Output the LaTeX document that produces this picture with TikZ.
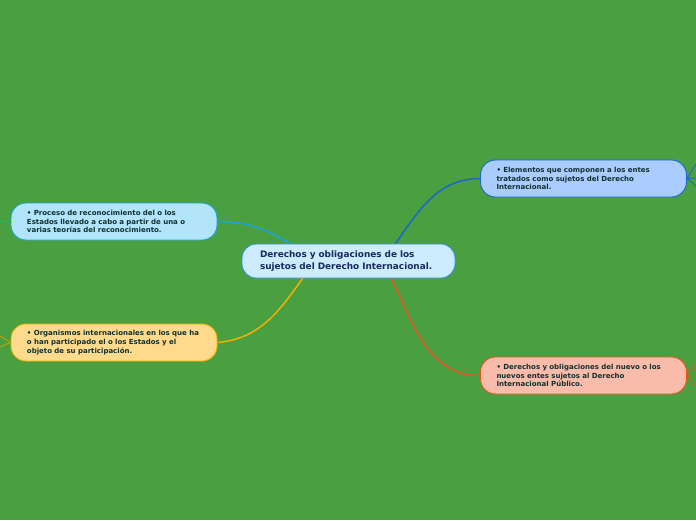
\documentclass[tikz,border=0pt]{standalone}
\usepackage{fontspec}
\usepackage{tikz}
\usetikzlibrary{positioning}
\newfontfamily\mapfont{DejaVu Sans}
\definecolor{mapgreen}{RGB}{74,159,64}
\definecolor{rootfill}{RGB}{204,235,252}
\definecolor{rootline}{RGB}{58,140,210}
\definecolor{roottext}{RGB}{24,42,92}
\definecolor{leaftext}{RGB}{16,48,48}
\definecolor{cyanfill}{RGB}{178,228,252}
\definecolor{cyanline}{RGB}{28,164,214}
\definecolor{yellowfill}{RGB}{255,218,140}
\definecolor{yellowline}{RGB}{240,178,0}
\definecolor{bluefill}{RGB}{170,204,255}
\definecolor{blueline}{RGB}{26,102,204}
\definecolor{redfill}{RGB}{250,188,170}
\definecolor{redline}{RGB}{232,84,32}

\begin{document}
\begin{tikzpicture}[
    x=1pt, y=-1pt,
    topic/.style={
      draw=rootline, fill=rootfill, line width=0.9pt, rounded corners=14pt,
      minimum width=213pt, minimum height=34pt, inner xsep=18pt,
      text width=177pt, align=left, text=roottext,
      font=\mapfont\bfseries\fontsize{8.9}{11.8}\selectfont
    },
    leaf/.style={
      line width=0.9pt, rounded corners=15pt,
      minimum width=206pt, minimum height=37pt, inner xsep=16pt,
      text width=174pt, align=left, text=leaftext,
      font=\mapfont\bfseries\fontsize{7}{8.6}\selectfont
    },
    branch/.style={line width=1.5pt},
    stub/.style={line width=0.8pt}
  ]
    % Background
    \fill[mapgreen] (0,0) rectangle (696,520);
    \useasboundingbox (0,0) rectangle (696,520);

    % Central topic
    \node[topic] (root) at (348.5,261) {Derechos y obligaciones de los\\sujetos del Derecho Internacional.};

    % Left branches
    \node[leaf, draw=cyanline, fill=cyanfill] (proceso) at (114,221.5)
      {• Proceso de reconocimiento del o los\\Estados llevado a cabo a partir de una o\\varias teorías del reconocimiento.};
    \node[leaf, draw=yellowline, fill=yellowfill] (organismos) at (114,342.5)
      {• Organismos internacionales en los que ha\\o han participado el o los Estados y el\\objeto de su participación.};

    % Right branches
    \node[leaf, draw=blueline, fill=bluefill] (elementos) at (583.5,178.5)
      {• Elementos que componen a los entes\\tratados como sujetos del Derecho\\Internacional.};
    \node[leaf, draw=redline, fill=redfill] (derechos) at (583.5,375.5)
      {• Derechos y obligaciones del nuevo o los\\nuevos entes sujetos al Derecho\\Internacional Público.};

    % Connectors
    \draw[branch, cyanline] (proceso.east) to[out=0, in=150] ([xshift=-58pt]root.north);
    \draw[branch, yellowline] (organismos.east) to[out=5, in=235] ([xshift=-46pt]root.south);
    \draw[branch, blueline] ([xshift=47pt]root.north) to[out=55, in=180] (elementos.west);
    \draw[branch, redline] ([xshift=43pt]root.south) to[out=-65, in=180] (derechos.west);

    % Stubs running off the page
    \coordinate (e1) at (696,164);
    \coordinate (e2) at (696,178);
    \coordinate (e3) at (696,186);
    \draw[stub, blueline] (elementos.east) -- (e1) (elementos.east) -- (e2) (elementos.east) -- (e3);
    \coordinate (d1) at (696,363);
    \coordinate (d2) at (696,376);
    \coordinate (d3) at (696,386);
    \draw[stub, redline!70!olive] (derechos.east) -- (d1) (derechos.east) -- (d2) (derechos.east) -- (d3);
    \coordinate (o1) at (0,336);
    \coordinate (o2) at (0,347);
    \draw[stub, yellowline!70!olive] (organismos.west) -- (o1) (organismos.west) -- (o2);
    \coordinate (p1) at (0,221.5);
    \draw[stub, cyanline] (proceso.west) -- (p1);
  \end{tikzpicture}
\end{document}
